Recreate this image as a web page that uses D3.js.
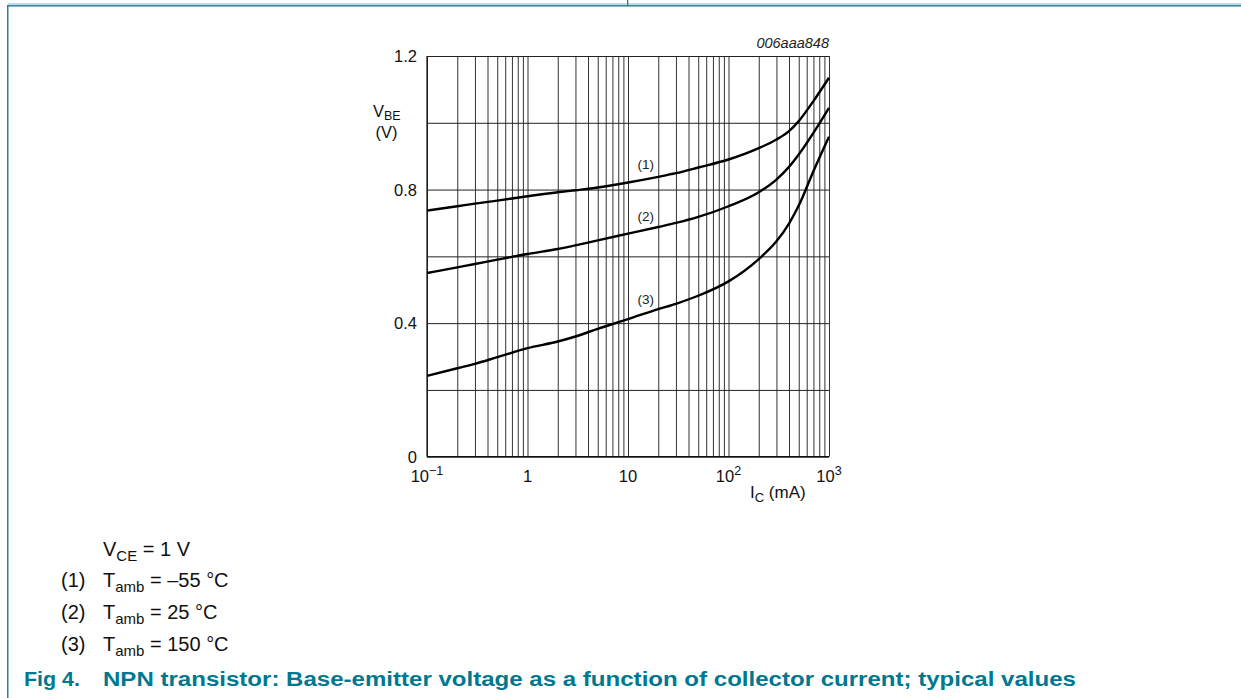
<!DOCTYPE html>
<html><head><meta charset="utf-8">
<script src="https://cdn.jsdelivr.net/npm/d3@7"></script>
<style>
body{margin:0;background:#fff;}
svg{display:block;font-family:"Liberation Sans",Arial,Helvetica,sans-serif;}
</style>
</head><body>
<svg id="chart" width="1241" height="698"></svg>
<script>
// ---- data ----
const currents = [0.1, 0.2, 0.3, 0.5, 1, 2, 3, 5, 10, 20, 30, 50, 100, 200, 300, 400, 500, 700, 1000];
const vbeMinus55 = [0.737, 0.750, 0.758, 0.767, 0.780, 0.792, 0.798, 0.806, 0.821, 0.838, 0.849, 0.866, 0.890, 0.924, 0.950, 0.975, 1.005, 1.065, 1.135];
const vbe25      = [0.550, 0.567, 0.577, 0.590, 0.607, 0.622, 0.633, 0.648, 0.668, 0.688, 0.700, 0.718, 0.750, 0.792, 0.830, 0.868, 0.905, 0.970, 1.045];
const vbe150     = [0.242, 0.265, 0.278, 0.298, 0.325, 0.345, 0.360, 0.383, 0.412, 0.442, 0.458, 0.482, 0.525, 0.592, 0.645, 0.698, 0.752, 0.855, 0.958];
const seriesLabels = ["(1)", "(2)", "(3)"];
const seriesLabelAt = [[15, 0.875], [15, 0.72], [15, 0.47]];
const yTickValues = [0, 0.4, 0.8, 1.2];
const yTickLabels = ["0", "0.4", "0.8", "1.2"];
const yGridValues = [0, 0.2, 0.4, 0.6, 0.8, 1.0, 1.2];
const xDecades = [0.1, 1, 10, 100, 1000];
const xTickBase = ["10", "1", "10", "10", "10"];
const xTickExp  = ["\u22121", "", "", "2", "3"];
const legendKeys = ["(1)", "(2)", "(3)"];
const legendTemps = ["\u201355 \u00B0C", "25 \u00B0C", "150 \u00B0C"];
const figureId = "006aaa848";

(function () {
// ---- layout ----
const svg = d3.select("#chart");
const teal = "#00788f";
const pLeft = 427, pRight = 829, pTop = 56, pBottom = 456.7;

const x = d3.scaleLog().domain([0.1, 1000]).range([pLeft, pRight]);
const y = d3.scaleLinear().domain([0, 1.2]).range([pBottom, pTop]);

// page decoration
svg.append("rect").attr("x", 8).attr("y", 3).attr("width", 1233).attr("height", 2).attr("fill", "#bcdde3");
svg.append("rect").attr("x", 8).attr("y", 5).attr("width", 1233).attr("height", 1.6).attr("fill", "#3b8a9b");
svg.append("rect").attr("x", 7).attr("y", 5).attr("width", 1.5).attr("height", 693).attr("fill", "#2a7f94");
svg.append("rect").attr("x", 627).attr("y", 0).attr("width", 1.3).attr("height", 6).attr("fill", "#2a7f94");

// grid: vertical (log minor) lines
const minorVals = [];
for (let d = 0.1; d < 1000; d *= 10) for (let k = 1; k <= 9; k++) minorVals.push(+(d * k).toPrecision(3));
minorVals.push(1000);
const gx = svg.append("g").attr("transform", `translate(0,${pBottom})`)
  .call(d3.axisBottom(x).tickValues(minorVals).tickSize(-(pBottom - pTop)).tickFormat(""));
gx.select(".domain").remove();
gx.selectAll("line").attr("stroke", "#333").attr("stroke-width", 1);

const gy = svg.append("g").attr("transform", `translate(${pLeft},0)`)
  .call(d3.axisLeft(y).tickValues(yGridValues).tickSize(-(pRight - pLeft)).tickFormat(""));
gy.select(".domain").remove();
gy.selectAll("line").attr("stroke", "#222").attr("stroke-width", 1);

// frame
svg.append("line").attr("x1", pLeft).attr("x2", pLeft).attr("y1", pTop).attr("y2", pBottom).attr("stroke", "#111").attr("stroke-width", 1.2);
svg.append("line").attr("x1", pLeft).attr("x2", pRight).attr("y1", pBottom).attr("y2", pBottom).attr("stroke", "#111").attr("stroke-width", 1.2);

// y tick labels
svg.append("g").selectAll("text").data(yTickValues).join("text")
  .attr("x", 417).attr("y", d => y(d)).attr("dy", "0.36em")
  .attr("text-anchor", "end").attr("font-size", 16.5).attr("fill", "#111")
  .text((d, i) => yTickLabels[i]);

// x tick labels
const xl = svg.append("g").selectAll("text").data(xDecades).join("text")
  .attr("x", d => x(d)).attr("y", 482).attr("text-anchor", "middle")
  .attr("font-size", 16.5).attr("fill", "#111");
xl.append("tspan").text((d, i) => xTickBase[i]);
xl.append("tspan").attr("dy", -7).attr("font-size", 12.5).text((d, i) => xTickExp[i]);

// axis titles
const yt = svg.append("text").attr("x", 373).attr("y", 117).attr("font-size", 16.5).attr("fill", "#111");
yt.append("tspan").text("V");
yt.append("tspan").attr("dy", 3).attr("font-size", 12.5).text("BE");
svg.append("text").attr("x", 386.5).attr("y", 137.5).attr("text-anchor", "middle").attr("font-size", 16.5).attr("fill", "#111").text("(V)");

const xt = svg.append("text").attr("x", 750).attr("y", 498).attr("font-size", 17).attr("fill", "#111");
xt.append("tspan").text("I");
xt.append("tspan").attr("dy", 4).attr("font-size", 13).text("C");
xt.append("tspan").attr("dy", -4).text(" (mA)");

svg.append("text").attr("x", 829).attr("y", 48).attr("text-anchor", "end")
  .attr("font-size", 14.5).attr("font-style", "italic").attr("fill", "#222").text(figureId);

// curves
const series = [vbeMinus55, vbe25, vbe150];
const line = d3.line().x(d => x(d[0])).y(d => y(d[1])).curve(d3.curveMonotoneX);
svg.append("g").selectAll("path").data(series).join("path")
  .attr("d", s => line(currents.map((c, i) => [c, s[i]])))
  .attr("fill", "none").attr("stroke", "#000").attr("stroke-width", 2.4);

svg.append("g").selectAll("text").data(seriesLabels).join("text")
  .attr("x", (d, i) => x(seriesLabelAt[i][0])).attr("y", (d, i) => y(seriesLabelAt[i][1]))
  .attr("text-anchor", "middle").attr("dy", "0.35em")
  .attr("font-size", 13.5).attr("fill", "#222").text(d => d);

// legend
const lg = svg.append("g").attr("fill", "#111").attr("font-size", 20);
const vce = lg.append("text").attr("x", 103).attr("y", 556);
vce.append("tspan").text("V");
vce.append("tspan").attr("dy", 5).attr("font-size", 15).text("CE");
vce.append("tspan").attr("dy", -5).text(" = 1 V");

const rows = [587, 619, 651];
legendKeys.forEach((k, i) => {
  lg.append("text").attr("x", 61).attr("y", rows[i]).text(k);
  const t = lg.append("text").attr("x", 103).attr("y", rows[i]);
  t.append("tspan").text("T");
  t.append("tspan").attr("dy", 5).attr("font-size", 15).text("amb");
  t.append("tspan").attr("dy", -5).text(" = " + legendTemps[i]);
});

// caption
const cap = svg.append("g").attr("fill", teal).attr("font-size", 20).attr("font-weight", "bold");
cap.append("text").attr("x", 24).attr("y", 686).attr("textLength", 56).attr("lengthAdjust", "spacingAndGlyphs").text("Fig 4.");
cap.append("text").attr("x", 103).attr("y", 686).attr("textLength", 973).attr("lengthAdjust", "spacingAndGlyphs")
  .text("NPN transistor: Base-emitter voltage as a function of collector current; typical values");
})();
</script>
</body></html>
